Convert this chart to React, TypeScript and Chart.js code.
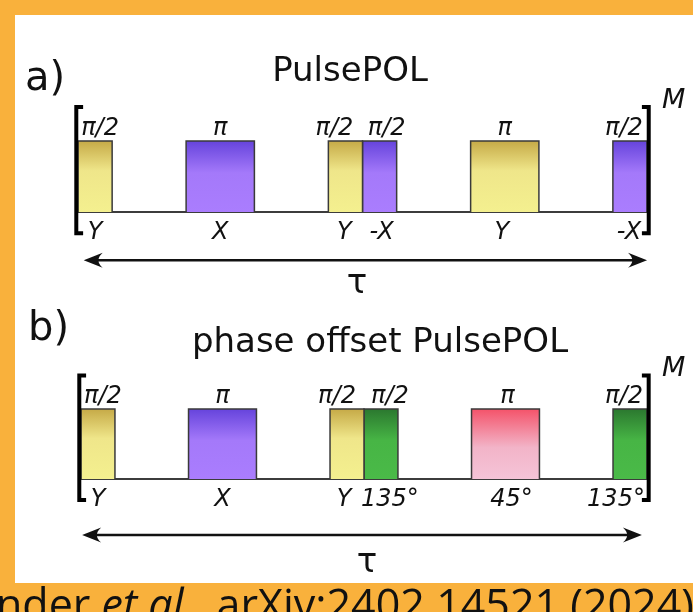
import React, { useEffect, useRef } from "react";
import { Chart, registerables } from "chart.js";
Chart.register(...registerables);

// ---------------- data ----------------
// pulse timing inside one PulsePOL block (τ spans 0..100)
const pulseStart = [0, 19, 44, 50, 69, 94];
const pulseEnd = [6, 31, 50, 56, 81, 100];
const pulseAmplitude = [1, 1, 1, 1, 1, 1];
const rotationLabels = ["π/2", "π", "π/2", "π/2", "π", "π/2"];
const phaseLabelsA = ["Y", "X", "Y", "-X", "Y", "-X"];
const phaseLabelsB = ["Y", "X", "Y", "135°", "45°", "135°"];
const pulseColorsA = ["yellow", "purple", "yellow", "purple", "yellow", "purple"];
const pulseColorsB = ["yellow", "purple", "yellow", "green", "red", "green"];
const sequenceSpan = [0, 100];
const bracketRange = [-0.3, 1.48];
const arrowRangeA = [1, 100];
const arrowRangeB = [0.2, 99.1];
const arrowLevelA = -0.68;
const arrowLevelB = -0.8;
const repeatLabel = "M";
const durationLabel = "τ";
const titleA = "PulsePOL";
const titleB = "phase offset PulsePOL";
const tagA = "a)";
const tagB = "b)";
const captionParts = ["nder ", "et al.", ", arXiv:2402.14521 (2024)"];

// ---------------- style ----------------
const ORANGE = "#F9B13C";
const INK = "#111111";
const gradStops: Record<string, [number, string][]> = {
  yellow: [[0, "#C6AA47"], [0.42, "#EFE68A"], [1, "#F4F08F"]],
  purple: [[0, "#6644DC"], [0.45, "#A479FA"], [1, "#AA7DFE"]],
  green: [[0, "#2B782F"], [0.45, "#47B545"], [1, "#4ABA48"]],
  red: [[0, "#F4536A"], [0.55, "#F2B4C8"], [1, "#F5C4D8"]],
};

const panels = [
  {
    x: "xa", y: "ya", colors: pulseColorsA, phases: phaseLabelsA,
    arrow: arrowRangeA, level: arrowLevelA,
    topShift: [5, 0, -11, 7, 0, -6], botShift: [0, 0, -1, 2, -3, -1],
    tag: tagA, tagX: 25, tagY: 90, title: titleA, titleX: 350, titleY: 81,
    tauX: 357, tauDy: 33,
  },
  {
    x: "xb", y: "yb", colors: pulseColorsB, phases: phaseLabelsB,
    arrow: arrowRangeB, level: arrowLevelB,
    topShift: [5, 0, -10, 9, 2, -6], botShift: [0, 0, -3, 9, 6, -14],
    tag: tagB, tagX: 28, tagY: 340, title: titleB, titleX: 380, titleY: 352,
    tauX: 367, tauDy: 37,
  },
];

function gradient(chart: any, yId: string, name: string) {
  const ys = chart.scales[yId];
  const stops = gradStops[name];
  if (!ys || !chart.chartArea) return stops[stops.length - 1][1];
  const g = chart.ctx.createLinearGradient(0, ys.getPixelForValue(1), 0, ys.getPixelForValue(0));
  stops.forEach(([o, c]) => g.addColorStop(o, c));
  return g;
}

function buildDatasets() {
  const ds: any[] = [];
  panels.forEach((p) => {
    // baseline
    ds.push({
      data: [{ x: sequenceSpan[0], y: 0 }, { x: sequenceSpan[1], y: 0 }],
      xAxisID: p.x, yAxisID: p.y, borderColor: "#3c3c3c", borderWidth: 2,
      pointRadius: 0, fill: false, order: 3,
    });
    // pulses
    pulseStart.forEach((s, i) => {
      const e = pulseEnd[i];
      const a = pulseAmplitude[i];
      const col = p.colors[i];
      ds.push({
        data: [{ x: s, y: 0 }, { x: s, y: a }, { x: e, y: a }, { x: e, y: 0 }],
        xAxisID: p.x, yAxisID: p.y,
        borderColor: "#3a3a3a", borderWidth: 1.5,
        backgroundColor: (c: any) => gradient(c.chart, p.y, col),
        fill: "origin", pointRadius: 0, order: 2,
      });
    });
    // brackets [ ... ]M
    const [bb, bt] = bracketRange;
    const l = sequenceSpan[0] - 0.3, r = sequenceSpan[1] + 0.3, serif = 1.2;
    ds.push({
      data: [{ x: l + serif, y: bt }, { x: l, y: bt }, { x: l, y: bb }, { x: l + serif, y: bb }],
      xAxisID: p.x, yAxisID: p.y, borderColor: "#000", borderWidth: 4,
      borderJoinStyle: "miter", pointRadius: 0, fill: false, order: 1,
    });
    ds.push({
      data: [{ x: r - serif, y: bt }, { x: r, y: bt }, { x: r, y: bb }, { x: r - serif, y: bb }],
      xAxisID: p.x, yAxisID: p.y, borderColor: "#000", borderWidth: 4,
      borderJoinStyle: "miter", pointRadius: 0, fill: false, order: 1,
    });
    // τ arrow shaft
    ds.push({
      data: [{ x: p.arrow[0] + 1.5, y: p.level }, { x: p.arrow[1] - 1.5, y: p.level }],
      xAxisID: p.x, yAxisID: p.y, borderColor: "#111", borderWidth: 2.5,
      pointRadius: 0, fill: false, order: 1,
    });
  });
  return ds;
}

function arrowHead(ctx: CanvasRenderingContext2D, tx: number, ty: number, d: number) {
  const L = 19, H = 7.5;
  ctx.beginPath();
  ctx.moveTo(tx, ty);
  ctx.lineTo(tx - d * L, ty - H);
  ctx.quadraticCurveTo(tx - d * L * 0.55, ty, tx - d * L, ty + H);
  ctx.closePath();
  ctx.fill();
}

const deco = {
  id: "deco",
  beforeDraw(chart: any) {
    const ctx = chart.ctx;
    ctx.save();
    ctx.fillStyle = ORANGE;
    ctx.fillRect(0, 0, chart.width, chart.height);
    ctx.fillStyle = "#ffffff";
    ctx.fillRect(15, 15, chart.width - 15, 568);
    ctx.restore();
  },
  afterDatasetsDraw(chart: any) {
    const ctx: CanvasRenderingContext2D = chart.ctx;
    ctx.save();
    ctx.fillStyle = INK;
    panels.forEach((p) => {
      const xs = chart.scales[p.x];
      const ys = chart.scales[p.y];
      // arrow heads
      const ay = ys.getPixelForValue(p.level);
      arrowHead(ctx, xs.getPixelForValue(p.arrow[0]), ay, -1);
      arrowHead(ctx, xs.getPixelForValue(p.arrow[1]), ay, 1);
      // pulse labels
      ctx.textAlign = "center";
      ctx.textBaseline = "alphabetic";
      ctx.font = 'italic 24px "DejaVu Sans"';
      pulseStart.forEach((s, i) => {
        const cx = (xs.getPixelForValue(s) + xs.getPixelForValue(pulseEnd[i])) / 2;
        ctx.fillText(rotationLabels[i], cx + p.topShift[i], ys.getPixelForValue(pulseAmplitude[i]) - 6);
        ctx.fillText(p.phases[i], cx + p.botShift[i], ys.getPixelForValue(0) + 27);
      });
      // M
      ctx.textAlign = "left";
      ctx.font = 'italic 27px "DejaVu Sans"';
      ctx.fillText(repeatLabel, xs.getPixelForValue(sequenceSpan[1]) + 15, ys.getPixelForValue(bracketRange[1]) + 1);
      // τ
      ctx.textAlign = "center";
      ctx.font = '34px "DejaVu Sans"';
      ctx.fillText(durationLabel, p.tauX, ay + p.tauDy);
      // tag & title
      ctx.textAlign = "left";
      ctx.font = '40px "DejaVu Sans"';
      ctx.fillText(p.tag, p.tagX, p.tagY);
      ctx.textAlign = "center";
      ctx.font = '34px "DejaVu Sans"';
      ctx.fillText(p.title, p.titleX, p.titleY);
    });
    // caption (cut off at the bottom)
    ctx.textAlign = "left";
    let cx = -4;
    captionParts.forEach((t, i) => {
      ctx.font = (i === 1 ? "italic " : "") + '43px "Open Sans"';
      ctx.fillText(t, cx, 620);
      cx += ctx.measureText(t).width;
    });
    ctx.restore();
  },
};

export default function App() {
  const ref = useRef<HTMLCanvasElement | null>(null);
  useEffect(() => {
    if (!ref.current) return;
    const chart = new Chart(ref.current, {
      type: "line",
      data: { datasets: buildDatasets() },
      options: {
        responsive: false,
        animation: false,
        devicePixelRatio: 1,
        layout: { padding: 0 },
        plugins: { legend: { display: false }, tooltip: { enabled: false }, title: { display: false } },
        elements: { line: { tension: 0 } },
        scales: {
          xa: { type: "linear", display: false, min: -13.708, max: 108.08 },
          xb: { type: "linear", display: false, min: -14.31, max: 108.13 },
          ya: { type: "linear", display: false, min: -5.634, max: 2.986 },
          yb: { type: "linear", display: false, min: -1.9, max: 6.843 },
        },
      },
      plugins: [deco],
    } as any);
    return () => chart.destroy();
  }, []);
  return (
    <div style={{ position: "absolute", left: 0, top: 0, width: 693, height: 612 }}>
      <canvas ref={ref} width={693} height={612} style={{ display: "block" }} />
    </div>
  );
}
